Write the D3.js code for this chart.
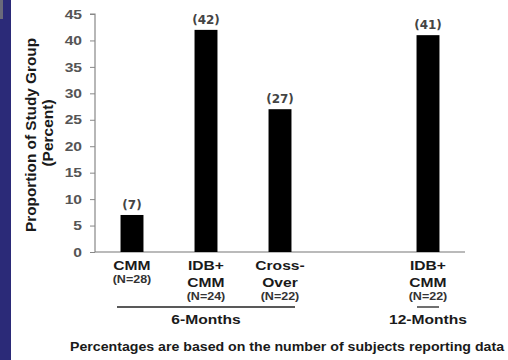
<!DOCTYPE html>
<html>
<head>
<meta charset="utf-8">
<script src="https://cdn.jsdelivr.net/npm/d3@7"></script>
<style>
  html, body { margin: 0; padding: 0; background: #fff; }
  svg { display: block; font-family: "Liberation Sans", Arial, sans-serif; }
</style>
</head>
<body>
<svg id="chart" width="508" height="360"></svg>
<script>
// Study arms, in display order (one empty slot separates the 6- and 12-month groups)
const slots = ["cmm6", "idb6", "cross6", "gap", "idb12"];
const categories = ["cmm6", "idb6", "cross6", "idb12"];
const nameLines = [["CMM"], ["IDB+", "CMM"], ["Cross-", "Over"], ["IDB+", "CMM"]];
const sampleSizes = ["(N=28)", "(N=24)", "(N=22)", "(N=22)"];
const percents = [7, 42, 27, 41];
const groupLabels = ["6-Months", "12-Months"];
const groupMembers = [["cmm6", "idb6", "cross6"], ["idb12"]];
const yTicks = [0, 5, 10, 15, 20, 25, 30, 35, 40, 45];

const svg = d3.select("#chart");

// widen a text element horizontally by a factor
function stretch(sel, f) {
  sel.each(function () {
    const w = this.getComputedTextLength();
    d3.select(this).attr("textLength", w * f).attr("lengthAdjust", "spacingAndGlyphs");
  });
  return sel;
}

// dark side band
svg.append("rect").attr("x", 0).attr("y", 0).attr("width", 11).attr("height", 360).attr("fill", "#2b2a78");
svg.append("rect").attr("x", 0).attr("y", 0).attr("width", 3).attr("height", 19).attr("fill", "#6a6a7a");

const x0 = 95, x1 = 465, yTop = 14, yBot = 252;

const x = d3.scaleBand().domain(slots).range([x0, x1]).paddingInner(0.69).paddingOuter(0.345);
const y = d3.scaleLinear().domain([0, 45]).range([yBot, yTop]);

// y axis
const yAxis = svg.append("g").attr("transform", `translate(${x0},0)`)
  .call(d3.axisLeft(y).tickValues(yTicks).tickSize(5).tickPadding(8));
yAxis.select(".domain").attr("stroke", "#888").attr("stroke-width", 1.2).attr("d", `M-5,${yTop}H0V${yBot}`);
yAxis.selectAll(".tick line").attr("stroke", "#888");
const tickText = yAxis.selectAll(".tick text").attr("fill", "#555").attr("font-size", 13).attr("font-weight", "bold")
  .attr("font-family", "Liberation Sans, Arial, sans-serif");
stretch(tickText, 1.2);

// x axis baseline
svg.append("line").attr("x1", x0).attr("x2", x1).attr("y1", yBot).attr("y2", yBot)
  .attr("stroke", "#777").attr("stroke-width", 1.2);

// y axis title (two lines)
const titleLines = ["Proportion of Study Group", "(Percent)"];
const titleX = [36, 53];
const titleY = [135, 133];
titleLines.forEach((ln, i) => {
  const t = svg.append("text").attr("transform", `translate(${titleX[i]},${titleY[i]}) rotate(-90)`)
    .attr("text-anchor", "middle").attr("font-weight", "bold").attr("font-size", 15.5).attr("fill", "#1a1a1a")
    .text(ln);
  if (i === 0) t.attr("textLength", 194).attr("lengthAdjust", "spacingAndGlyphs");
});

// bars
svg.selectAll("rect.bar").data(categories).enter().append("rect").attr("class", "bar")
  .attr("x", d => x(d)).attr("width", x.bandwidth())
  .attr("y", (d, i) => y(percents[i])).attr("height", (d, i) => yBot - y(percents[i]))
  .attr("fill", "#000");

// value labels
svg.selectAll("text.val").data(categories).enter().append("text").attr("class", "val")
  .attr("x", d => x(d) + x.bandwidth() / 2).attr("y", (d, i) => y(percents[i]) - 6)
  .attr("text-anchor", "middle").attr("font-size", 12).attr("font-weight", "bold").attr("fill", "#444")
  .attr("font-family", "DejaVu Sans, sans-serif")
  .text((d, i) => `(${percents[i]})`);

// category labels
categories.forEach((c, i) => {
  const cx = x(c) + x.bandwidth() / 2;
  nameLines[i].forEach((ln, j) => {
    const t = svg.append("text").attr("x", cx).attr("y", 270 + j * 17).attr("text-anchor", "middle")
      .attr("font-weight", "bold").attr("font-size", 13).attr("fill", "#1a1a1a").text(ln);
    stretch(t, 1.2);
  });
  const n = svg.append("text").attr("x", cx).attr("y", 270 + nameLines[i].length * 17 - 4)
    .attr("text-anchor", "middle").attr("font-weight", "bold").attr("font-size", 10).attr("fill", "#333")
    .text(sampleSizes[i]);
  stretch(n, 1.25);
});

// group brackets
const groupPad = [[15, 15], [11, 11]];
groupLabels.forEach((g, k) => {
  const mem = groupMembers[k];
  const gx0 = x(mem[0]) + x.bandwidth() / 2 - groupPad[k][0];
  const gx1 = x(mem[mem.length - 1]) + x.bandwidth() / 2 + groupPad[k][1];
  svg.append("line").attr("x1", gx0).attr("x2", gx1).attr("y1", 307).attr("y2", 307)
    .attr("stroke", "#222").attr("stroke-width", 1.3);
  const t = svg.append("text").attr("x", (gx0 + gx1) / 2).attr("y", 324).attr("text-anchor", "middle")
    .attr("font-weight", "bold").attr("font-size", 13).attr("fill", "#1a1a1a").text(g);
  stretch(t, 1.2);
});

// footnote
svg.append("text").attr("x", 287).attr("y", 351).attr("text-anchor", "middle")
  .attr("font-weight", "bold").attr("font-size", 12).attr("fill", "#1a1a1a")
  .attr("textLength", 434).attr("lengthAdjust", "spacingAndGlyphs")
  .text("Percentages are based on the number of subjects reporting data");
</script>
</body>
</html>
